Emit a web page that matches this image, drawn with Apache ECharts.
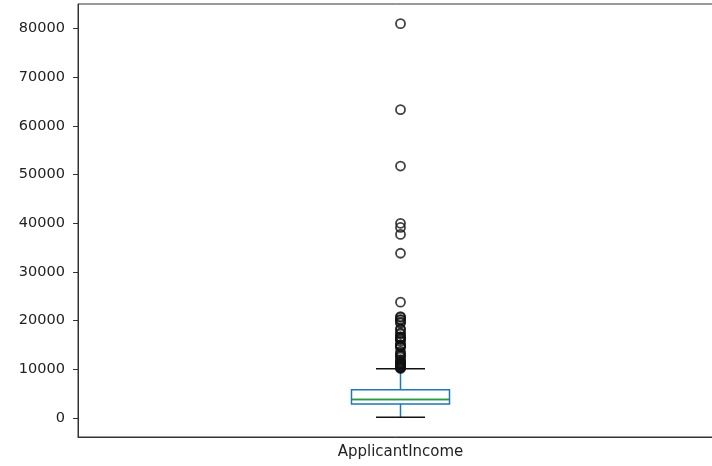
<!DOCTYPE html>
<html>
<head>
<meta charset="utf-8">
<script src="https://cdn.jsdelivr.net/npm/echarts@6/dist/echarts.min.js"></script>
<style>html,body{margin:0;padding:0;background:#fff;overflow:hidden;}#c{width:712px;height:466px;}</style>
</head>
<body>
<div id="c"></div>
<script>
const categories = ['ApplicantIncome'];
// [lowerWhisker, Q1, median, Q3, upperWhisker]
const stats = [[150, 2877.5, 3812.5, 5795, 10139]];
const outliers = [81000, 63337, 51763, 39999, 39147, 37719, 33846, 23803, 20833, 20667, 20233, 20166,
  19730, 19484, 18333, 18165, 17500, 17263, 16692, 16667, 16525, 16250, 16120, 15759, 15000, 14999,
  14880, 14866, 14683, 14583, 13650, 13262, 12876, 12841, 12500, 12000, 11757, 11500, 11417, 11250,
  11146, 11000, 10833, 10750, 10513, 10416, 10408, 10333, 10177];
const yTicks = [0, 10000, 20000, 30000, 40000, 50000, 60000, 70000, 80000];
const yMin = -3892, yMax = 85042;

const boxData = stats.map(s => [s[1], s[1], s[2], s[3], s[3]]);
const whiskerData = [];
stats.forEach((s, i) => { whiskerData.push([i, s[0], s[1]]); whiskerData.push([i, s[3], s[4]]); });
const capData = [];
stats.forEach((s, i) => { capData.push([i, s[0]]); capData.push([i, s[4]]); });
const outlierData = [];
stats.forEach((s, i) => outliers.forEach(v => outlierData.push([i, v])));

const chart = echarts.init(document.getElementById('c'));
chart.setOption({
  animation: false,
  grid: { left: 78, width: 645, top: 4, bottom: 29, show: true, borderColor: '#333', borderWidth: 1,
    outerBoundsMode: 'none', containLabel: false },
  xAxis: {
    type: 'category', data: categories, boundaryGap: true,
    axisLine: { onZero: false, lineStyle: { color: '#333', width: 1 } },
    axisTick: { alignWithLabel: true, length: 5, lineStyle: { color: '#333' } },
    axisLabel: { color: '#222', fontFamily: 'DejaVu Sans', fontSize: 15, margin: 8 },
    splitLine: { show: false }
  },
  yAxis: {
    type: 'value', min: yMin, max: yMax,
    axisLine: { show: true, lineStyle: { color: '#333', width: 1 } },
    axisTick: { show: true, length: 5, customValues: yTicks, lineStyle: { color: '#333' } },
    axisLabel: { color: '#222', fontFamily: 'DejaVu Sans', fontSize: 14.5, margin: 13,
      customValues: yTicks, formatter: function (v) { return String(v); } },
    splitLine: { show: false }
  },
  series: [
    {
      type: 'custom', z: 2,
      renderItem: function (params, api) {
        const p1 = api.coord([api.value(0), api.value(1)]);
        const p2 = api.coord([api.value(0), api.value(2)]);
        return { type: 'line', shape: { x1: p1[0], y1: p1[1], x2: p2[0], y2: p2[1] },
          style: { stroke: '#1f77b4', lineWidth: 1.5 } };
      },
      data: whiskerData
    },
    {
      type: 'custom', z: 3,
      renderItem: function (params, api) {
        const p = api.coord([api.value(0), api.value(1)]);
        const half = 24.5;
        return { type: 'line', shape: { x1: p[0] - half, y1: p[1], x2: p[0] + half, y2: p[1] },
          style: { stroke: '#111', lineWidth: 1.5 } };
      },
      data: capData
    },
    {
      type: 'boxplot', z: 4, data: boxData, boxWidth: [98, 98],
      itemStyle: { color: 'rgba(0,0,0,0)', borderColor: '#1f77b4', borderWidth: 1.5 }
    },
    {
      type: 'custom', z: 5,
      renderItem: function (params, api) {
        const p = api.coord([api.value(0), api.value(1)]);
        return { type: 'line', shape: { x1: p[0] - 48, y1: p[1], x2: p[0] + 48, y2: p[1] },
          style: { stroke: '#2ca02c', lineWidth: 1.5 } };
      },
      data: stats.map((s, i) => [i, s[2]])
    },
    {
      type: 'scatter', z: 6, data: outlierData, symbol: 'circle', symbolSize: 9,
      itemStyle: { color: 'rgba(0,0,0,0)', borderColor: '#111', borderWidth: 1.8 }
    }
  ]
});
</script>
</body>
</html>
